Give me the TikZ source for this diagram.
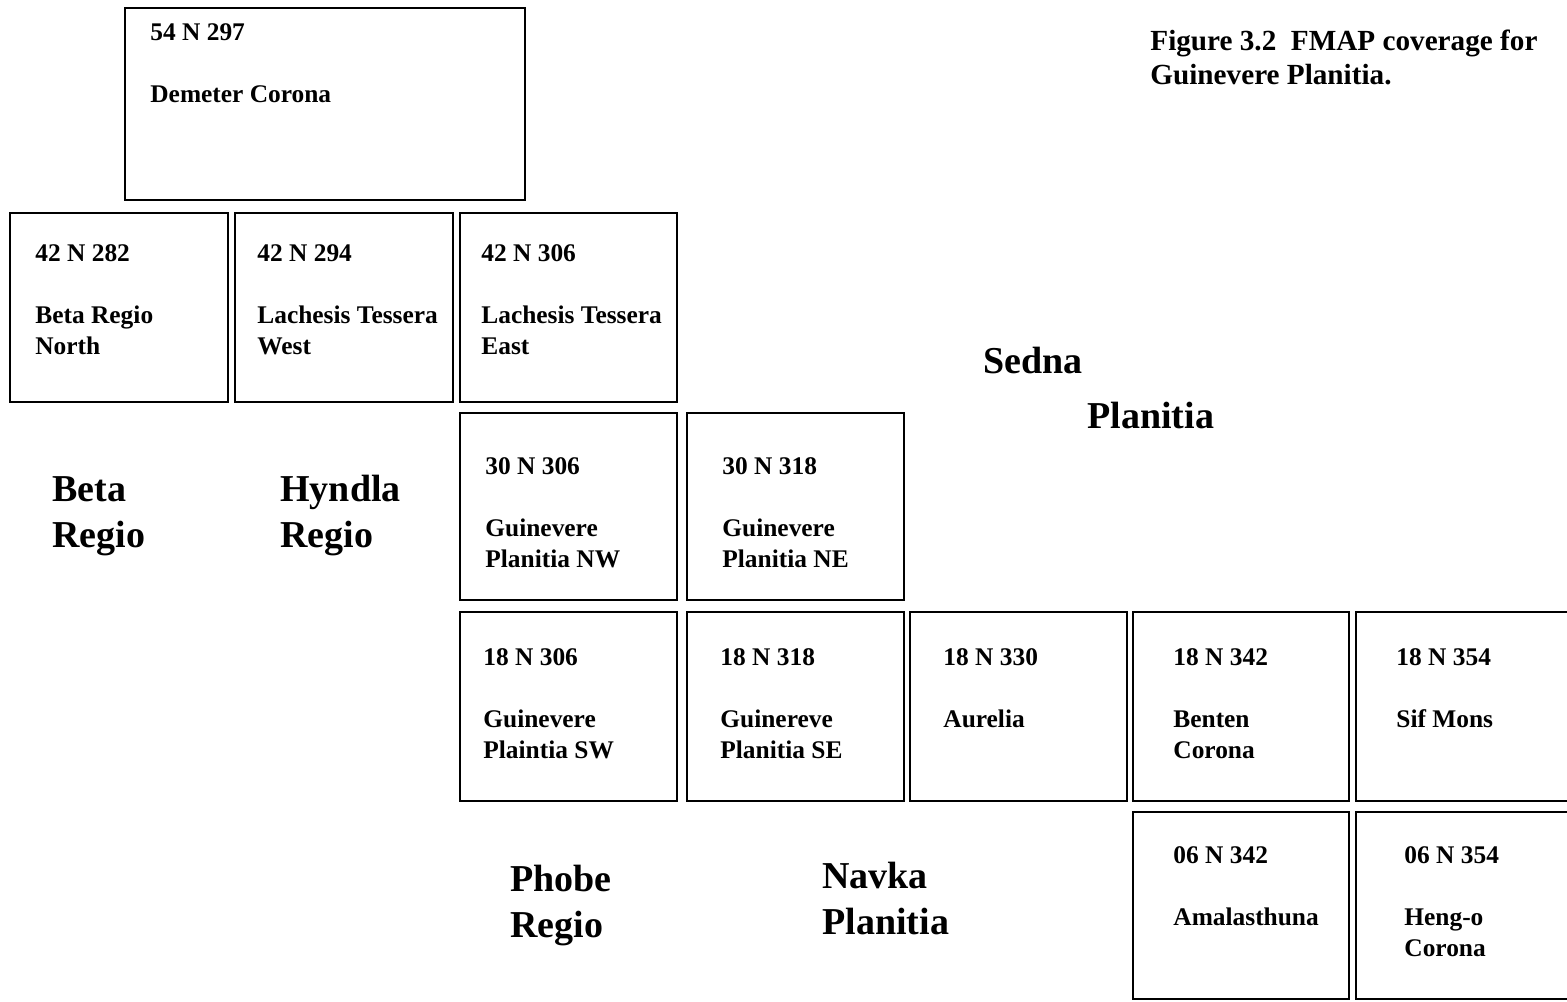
\documentclass[tikz,border=0pt]{standalone}
\usepackage{fontspec}
\setmainfont{Liberation Serif}
\begin{document}
\begin{tikzpicture}[x=0.5pt,y=-0.5pt,
  tile/.style={draw=black,line width=1.1pt},
  lbl/.style={anchor=base west,inner sep=0pt,align=left,font=\bfseries\fontsize{12.7}{15.5}\selectfont},
  big/.style={anchor=base west,inner sep=0pt,align=left,font=\bfseries\fontsize{19}{23}\selectfont},
  captext/.style={anchor=base west,inner sep=0pt,align=left,font=\bfseries\fontsize{14.6}{17}\selectfont}]
\useasboundingbox (0,0) rectangle (1567,1001);
\begin{scope}
\clip (0,0) rectangle (1567,1001);
% tiles
\draw[tile] (125,8) rectangle (525,200);
\draw[tile] (10,213) rectangle (228,402);
\draw[tile] (235,213) rectangle (453,402);
\draw[tile] (460,213) rectangle (677,402);
\draw[tile] (460,413) rectangle (677,600);
\draw[tile] (687,413) rectangle (904,600);
\draw[tile] (460,612) rectangle (677,801);
\draw[tile] (687,612) rectangle (904,801);
\draw[tile] (910,612) rectangle (1127,801);
\draw[tile] (1133,612) rectangle (1349,801);
\draw[tile] (1356,612) rectangle (1580,801);
\draw[tile] (1133,812) rectangle (1349,999);
\draw[tile] (1356,812) rectangle (1580,999);
\end{scope}
% tile labels (anchored at the baseline of their last line)
\node[lbl] (t54) at (150,102) {54 N 297\\[15.5pt]Demeter Corona};
\node[lbl] (t42a) at (35,354) {42 N 282\\[15.5pt]Beta Regio\\North};
\node[lbl] (t42b) at (257,354) {42 N 294\\[15.5pt]Lachesis Tessera\\West};
\node[lbl] (t42c) at (481,354) {42 N 306\\[15.5pt]Lachesis Tessera\\East};
\node[lbl] (t30a) at (485,567) {30 N 306\\[15.5pt]Guinevere\\Planitia NW};
\node[lbl] (t30b) at (722,567) {30 N 318\\[15.5pt]Guinevere\\Planitia NE};
\node[lbl] (t18a) at (483,758) {18 N 306\\[15.5pt]Guinevere\\Plaintia SW};
\node[lbl] (t18b) at (720,758) {18 N 318\\[15.5pt]Guinereve\\Planitia SE};
\node[lbl] (t18c) at (943,727) {18 N 330\\[15.5pt]Aurelia};
\node[lbl] (t18d) at (1173,758) {18 N 342\\[15.5pt]Benten\\Corona};
\node[lbl] (t18e) at (1396,727) {18 N 354\\[15.5pt]Sif Mons};
\node[lbl] (t06a) at (1173,925) {06 N 342\\[15.5pt]Amalasthuna};
\node[lbl] (t06b) at (1404,956) {06 N 354\\[15.5pt]Heng-o\\Corona};
% caption
\node[captext] (caption) at (1150,84) {Figure 3.2\ \ FMAP coverage for\\Guinevere Planitia.};
% region names
\node[big] (sedna) at (983,373) {Sedna};
\node[big] (sedna2) at (1087,428) {Planitia};
\node[big] (beta) at (52,547) {Beta\\Regio};
\node[big] (hyndla) at (280,547) {Hyndla\\Regio};
\node[big] (phobe) at (510,937) {Phobe\\Regio};
\node[big] (navka) at (822,934) {Navka\\Planitia};
\end{tikzpicture}
\end{document}
